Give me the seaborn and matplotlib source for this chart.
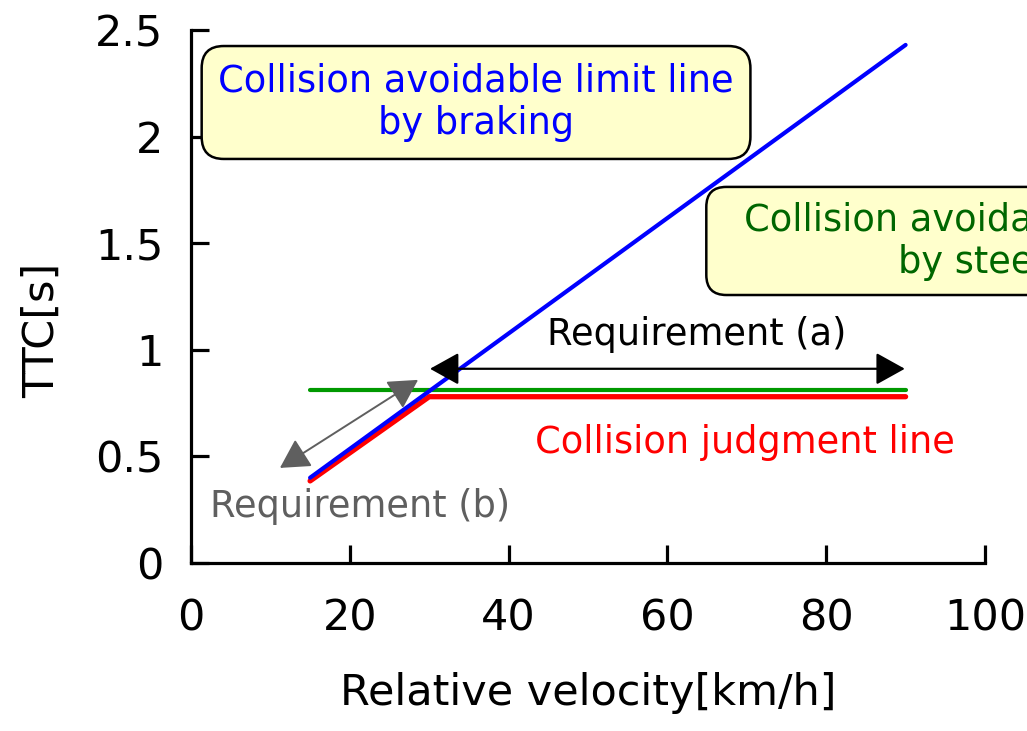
import matplotlib
matplotlib.use("Agg")
import matplotlib.pyplot as plt
from matplotlib.patches import FancyBboxPatch
import seaborn as sns
import pandas as pd

# ---- data ----
speed_brake = [15, 90]
ttc_brake = [0.40, 2.43]
speed_judge = [15, 30, 90]
ttc_judge = [0.385, 0.78, 0.78]
speed_steer = [15, 90]
ttc_steer = [0.81, 0.81]

xticks = [0, 20, 40, 60, 80, 100]
yticks = [0, 0.5, 1, 1.5, 2, 2.5]
yticklabels = ["0", "0.5", "1", "1.5", "2", "2.5"]

sns.set_style("ticks")
plt.rcParams['font.family'] = ['DejaVu Sans']

fig = plt.figure(figsize=(10.27, 7.31), dpi=100)
ax = fig.add_axes([191/1027, 1 - 563/731, 794/1027, 533/731])

sns.lineplot(x=speed_steer, y=ttc_steer, ax=ax, color="#009900", lw=3.0, zorder=3)
sns.lineplot(x=speed_judge, y=ttc_judge, ax=ax, color="#ff0000", lw=3.8, zorder=3)
sns.lineplot(x=speed_brake, y=ttc_brake, ax=ax, color="#0000ff", lw=3.0, zorder=4)

ax.set_xlim(0, 100)
ax.set_ylim(0, 2.5)
ax.set_xticks(xticks)
ax.set_yticks(yticks)
ax.set_yticklabels(yticklabels)
for s in ["top", "right"]:
    ax.spines[s].set_visible(False)
for s in ["left", "bottom"]:
    ax.spines[s].set_linewidth(2.3)
    ax.spines[s].set_color("black")
ax.tick_params(direction="in", length=13, width=2.3, labelsize=31, colors="black")
ax.tick_params(axis="x", pad=25)
ax.tick_params(axis="y", pad=20)

ax.set_xlabel("Relative velocity[km/h]", fontsize=31, color="black")
ax.set_ylabel("TTC[s]", fontsize=31, color="black")
ax.xaxis.set_label_coords(0.5, -0.205)
ax.yaxis.set_label_coords(-0.161, 0.437)

box = dict(boxstyle="round,pad=0.45,rounding_size=0.6", fc="#ffffcc", ec="black", lw=1.8)
ax.text(35.9, 2.16, "Collision avoidable limit line\nby braking", ha="center", va="center",
        fontsize=26.5, color="#0000ff", bbox=box, zorder=5, linespacing=1.2)

# second note box (runs past the right edge of the figure, as in the reference)
px_x = 794 / 100.0
px_y = 533 / 2.5
box2 = FancyBboxPatch((64.9, 1.257), 65, 0.507,
                      boxstyle="round,pad=0,rounding_size=%f" % (20 / px_x),
                      mutation_aspect=px_x / px_y, fc="#ffffcc", ec="black", lw=1.8,
                      zorder=5, clip_on=False)
ax.add_patch(box2)
ax.text(102.1, 1.51, "Collision avoidable limit line\nby steering", ha="center", va="center",
        fontsize=26.5, color="#006600", zorder=6, linespacing=1.2, clip_on=False)

ax.annotate("", xy=(30.1, 0.911), xytext=(89.9, 0.911),
            arrowprops=dict(arrowstyle="<|-|>,head_length=0.9,head_width=0.5", color="black",
                            lw=1.6, shrinkA=0, shrinkB=0, mutation_scale=20), zorder=6)
ax.annotate("", xy=(11.2, 0.446), xytext=(28.6, 0.859),
            arrowprops=dict(arrowstyle="<|-|>,head_length=0.9,head_width=0.5", color="#5f5f5f",
                            lw=1.4, shrinkA=0, shrinkB=0, mutation_scale=20), zorder=6)

ax.text(63.7, 1.07, "Requirement (a)", ha="center", va="center", fontsize=26.5, color="black")
ax.text(21.3, 0.263, "Requirement (b)", ha="center", va="center", fontsize=26.5, color="#5f5f5f")
ax.text(69.8, 0.563, "Collision judgment line", ha="center", va="center", fontsize=26.5, color="#ff0000")

fig.savefig("out.png", dpi=100)
